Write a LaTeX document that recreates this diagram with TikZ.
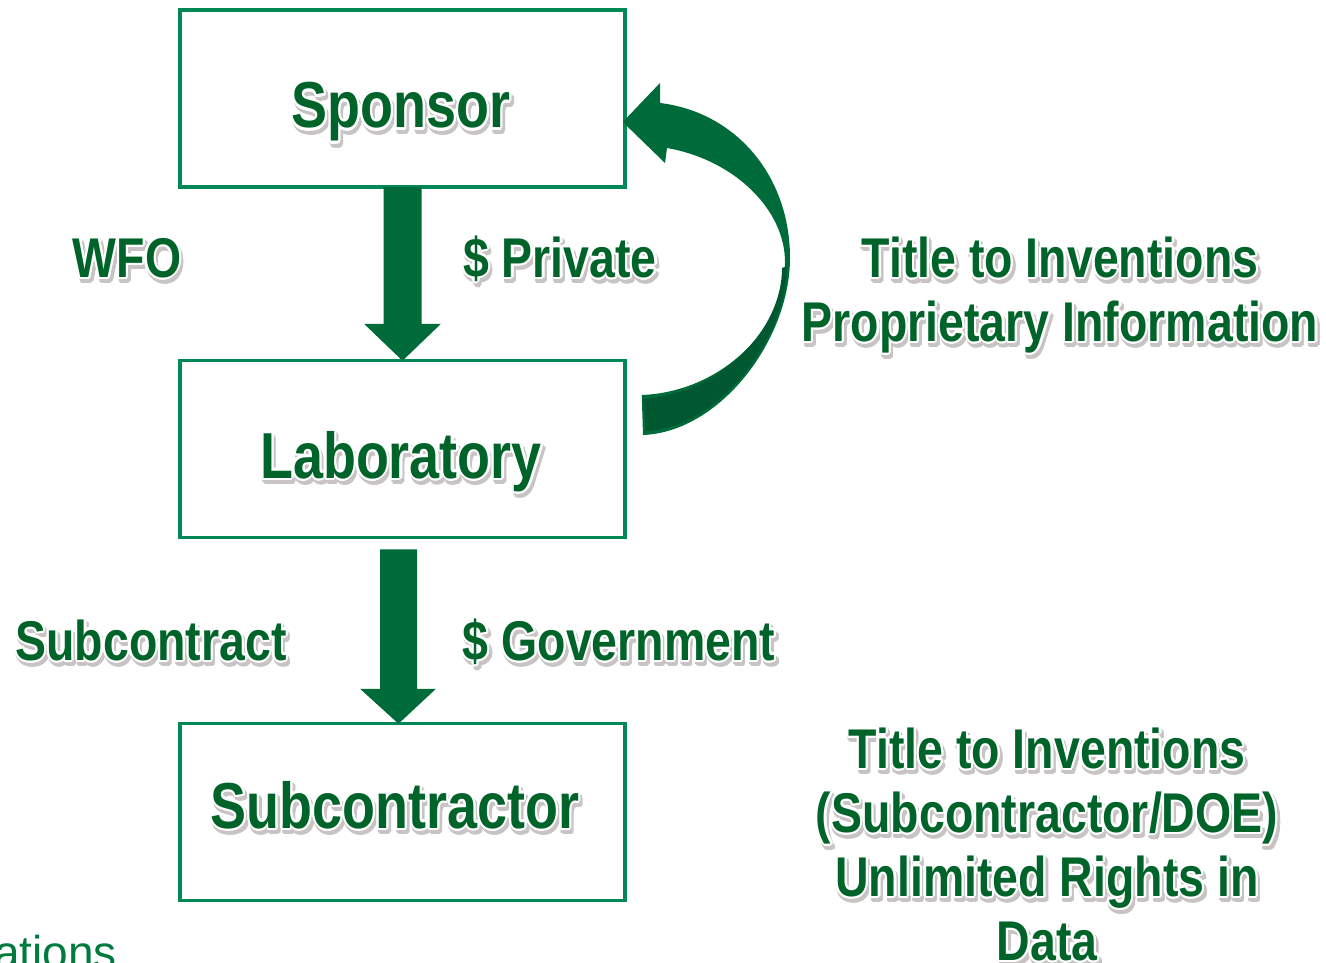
\documentclass[tikz,border=0pt]{standalone}
\usepackage{fontspec}
\setmainfont{Liberation Sans}
\newfontfamily\narb{Liberation Sans}[FakeStretch=0.83]
\usepackage[copies]{contour}
\contourlength{2.2pt}
\usetikzlibrary{calc}
\definecolor{txtgreen}{RGB}{0,100,42}
\definecolor{arrowgreen}{RGB}{0,107,58}
\definecolor{darkarrow}{RGB}{0,88,48}
\definecolor{boxgreen}{RGB}{0,137,86}
\definecolor{shadowgray}{RGB}{200,196,196}
\definecolor{fraggreen}{RGB}{0,122,61}
\newcommand{\ftx}[1]{\leavevmode\rlap{\kern2pt\raisebox{-4pt}{\contourlength{2.6pt}\color{shadowgray}\contour{shadowgray}{#1}}}{\color{txtgreen}\contour{white}{#1}}}
\tikzset{
  box/.style={draw=boxgreen, line width=3.5pt, minimum width=445pt, minimum height=177pt, inner sep=0pt},
  lbl/.style={font=\narb\bfseries\fontsize{56}{64}\selectfont, inner sep=0pt, anchor=base},
  boxlbl/.style={font=\narb\bfseries\fontsize{65}{70}\selectfont, inner sep=0pt, anchor=base},
  blk/.style={align=center, font=\narb\bfseries\fontsize{56}{64}\selectfont, inner sep=0pt, anchor=base},
}
\begin{document}
\begin{tikzpicture}[x=1pt,y=-1pt]
\useasboundingbox (0,0) rectangle (1326,963);
% boxes
\node[box] (sp)  at (402.5,98.5) {};
\node[box] (lab) at (402.5,449) {};
\node[box] (sub) at (402.5,812) {};
% straight block arrows
\fill[arrowgreen] ($(sp.south)+(-19,-1.5)$) -- ($(sp.south)+(19,-1.5)$) -- ($(lab.north)+(19,-35)$)
  -- ($(lab.north)+(38.5,-35)$) -- ($(lab.north)+(0,2)$) -- ($(lab.north)+(-38.5,-35)$)
  -- ($(lab.north)+(-19,-35)$) -- cycle;
\fill[arrowgreen] ($(lab.south)+(-22.5,10)$) -- ($(lab.south)+(14.5,10)$) -- ($(sub.north)+(14.5,-33)$)
  -- ($(sub.north)+(33.5,-33)$) -- ($(sub.north)+(-4,2)$) -- ($(sub.north)+(-42.5,-33)$)
  -- ($(sub.north)+(-22.5,-33)$) -- cycle;
% curved arrow from laboratory back to sponsor
\coordinate (ctip) at ($(sp.east)+(-4,23.5)$);
\coordinate (ctail) at ($(lab.east)+(15,-54)$);
\fill[arrowgreen] (ctip) -- (660,83) -- (660,103)
  .. controls (735,112) and (790,175) .. (790,258)
  .. controls (790,340) and (720,432) .. (643,435)
  -- (ctail)
  .. controls (720,392) and (785,330) .. (785,262)
  .. controls (785,210) and (735,160) .. (667,148)
  -- (665,163) -- cycle;
\fill[darkarrow] (787,266) .. controls (786,340) and (718,428) .. (646,431)
  -- (643,399) .. controls (718,394) and (782,332) .. (782,268) -- cycle;
% labels
\node[boxlbl] (tsp)  at (401,128) {\ftx{Sponsor}};
\node[boxlbl] (tlab) at (401,478) {\ftx{Laboratory}};
\node[boxlbl] (tsub) at (395,828) {\ftx{Subcontractor}};
\node[lbl] (wfo)  at (127,277) {\ftx{WFO}};
\node[lbl] (priv) at (560,277) {\ftx{\$ Private}};
\node[lbl] (subc) at (151,660) {\ftx{Subcontract}};
\node[lbl] (gov)  at (619,660) {\ftx{\$ Government}};
\node[blk] (title1) at (1060,341) {\ftx{Title to Inventions}\\\ftx{Proprietary Information}};
\node[blk] (title2) at (1047,960) {\ftx{Title to Inventions}\\\ftx{(Subcontractor/DOE)}\\\ftx{Unlimited Rights in}\\\ftx{Data}};
\node[anchor=base west, inner sep=0pt, font=\fontsize{46}{46}\selectfont, text=fraggreen] (frag) at (-6,968) {ations};
\end{tikzpicture}
\end{document}
